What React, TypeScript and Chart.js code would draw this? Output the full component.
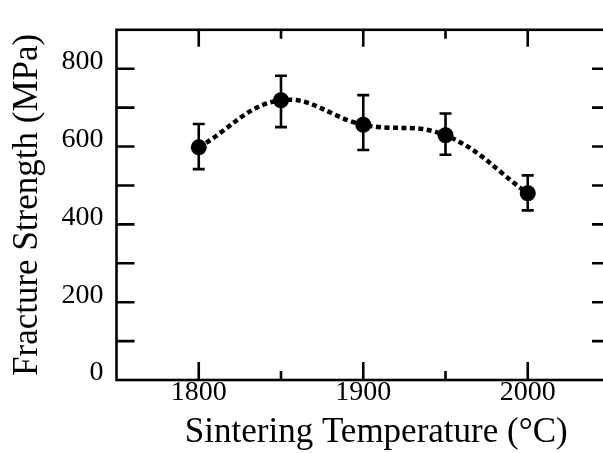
import React, { useEffect, useRef } from "react";
import { Chart, registerables } from "chart.js";

Chart.register(...registerables);

const temps = [1800, 1850, 1900, 1950, 2000];
const strength = [598, 719, 656, 629, 480];
const errLow = [542, 650, 591, 579, 436];
const errHigh = [658, 782, 732, 685, 526];

const xTickLabels = [1800, 1900, 2000];
const xMinorTicks = [1850, 1950];
const yTickLabels = [0, 200, 400, 600, 800];
const yAllTicks = [100, 200, 300, 400, 500, 600, 700, 800];

const xTitle = "Sintering Temperature (°C)";
const yTitle = "Fracture Strength (MPa)";

const FONT = "'Liberation Serif', 'Times New Roman', serif";

const framePlugin = {
  id: "frame",
  beforeDatasetsDraw(chart: any) {
    const { ctx, chartArea, scales } = chart;
    const xs = scales.x;
    const ys = scales.y;
    const { left, right, top, bottom } = chartArea;
    ctx.save();
    ctx.strokeStyle = "#000";
    ctx.lineCap = "butt";
    ctx.lineWidth = 2.6;
    ctx.beginPath();
    for (const v of xTickLabels) {
      const px = xs.getPixelForValue(v);
      ctx.moveTo(px, bottom);
      ctx.lineTo(px, bottom - 18);
      ctx.moveTo(px, top);
      ctx.lineTo(px, top + 17);
    }
    for (const v of xMinorTicks) {
      const px = xs.getPixelForValue(v);
      ctx.moveTo(px, bottom);
      ctx.lineTo(px, bottom - 9);
      ctx.moveTo(px, top);
      ctx.lineTo(px, top + 9);
    }
    for (const v of yAllTicks) {
      const py = ys.getPixelForValue(v);
      ctx.moveTo(left, py);
      ctx.lineTo(left + 18, py);
      ctx.moveTo(right, py);
      ctx.lineTo(right - 18, py);
    }
    ctx.stroke();
    ctx.strokeRect(left, top, right - left, bottom - top);
    ctx.beginPath();
    temps.forEach((t, i) => {
      const px = xs.getPixelForValue(t);
      const lo = ys.getPixelForValue(errLow[i]);
      const hi = ys.getPixelForValue(errHigh[i]);
      ctx.moveTo(px, lo);
      ctx.lineTo(px, hi);
      ctx.moveTo(px - 6, lo);
      ctx.lineTo(px + 6, lo);
      ctx.moveTo(px - 6, hi);
      ctx.lineTo(px + 6, hi);
    });
    ctx.stroke();
    ctx.restore();
  },
  afterDraw(chart: any) {
    const { ctx, chartArea } = chart;
    ctx.save();
    ctx.fillStyle = "#000";
    ctx.font = `35px ${FONT}`;
    ctx.textAlign = "center";
    ctx.textBaseline = "alphabetic";
    ctx.fillText(xTitle, (chartArea.left + chartArea.right) / 2 + 13, 442);
    ctx.restore();
  },
};

export default function App() {
  const ref = useRef<HTMLCanvasElement | null>(null);
  useEffect(() => {
    if (!ref.current) return;
    const chart = new Chart(ref.current, {
      type: "scatter",
      data: {
        datasets: [
          {
            data: temps.map((t, i) => ({ x: t, y: strength[i] })),
            showLine: true,
            borderColor: "#000",
            backgroundColor: "#000",
            borderWidth: 4.5,
            borderDash: [5, 3.5],
            tension: 0.4,
            pointRadius: 8,
            pointHoverRadius: 8,
            pointBackgroundColor: "#000",
            pointBorderWidth: 0,
          },
        ],
      },
      options: {
        responsive: false,
        animation: false,
        events: [],
        layout: { padding: { top: 12, right: 10, left: 0, bottom: 0 } },
        plugins: {
          legend: { display: false },
          tooltip: { enabled: false },
        },
        scales: {
          x: {
            type: "linear",
            min: 1750,
            max: 2050,
            grid: { display: false, drawTicks: false },
            border: { display: false },
            afterBuildTicks: (s: any) => {
              s.ticks = xTickLabels.map((v) => ({ value: v }));
            },
            afterFit: (s: any) => {
              s.height = 73;
            },
            ticks: {
              color: "#000",
              padding: -4,
              maxRotation: 0,
              font: { family: FONT, size: 28 },
              callback: (v: any) => String(v),
            },
            title: { display: false },
          },
          y: {
            type: "linear",
            min: 0,
            max: 900,
            grid: { display: false, drawTicks: false },
            border: { display: false },
            afterBuildTicks: (s: any) => {
              s.ticks = yTickLabels.map((v) => ({ value: v }));
            },
            afterFit: (s: any) => {
              s.width = 116.5;
            },
            ticks: {
              color: "#000",
              padding: 13,
              labelOffset: -7,
              font: { family: FONT, size: 28 },
              callback: (v: any) => String(v),
            },
            title: {
              display: true,
              text: yTitle,
              color: "#000",
              font: { family: FONT, size: 35 },
              padding: { top: 7, bottom: 0 },
            },
          },
        },
      },
      plugins: [framePlugin],
    } as any);
    return () => chart.destroy();
  }, []);
  return (
    <div
      style={{
        position: "fixed",
        left: 0,
        top: 0,
        width: 603,
        height: 453,
        overflow: "hidden",
        background: "#fff",
      }}
    >
      <canvas ref={ref} width={620} height={453} style={{ width: 620, height: 453, display: "block" }} />
    </div>
  );
}
